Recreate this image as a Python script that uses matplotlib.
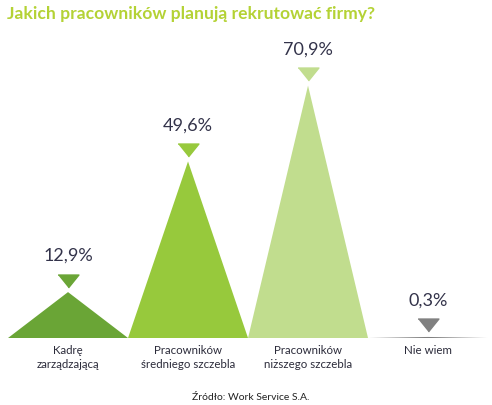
import matplotlib.pyplot as plt
from matplotlib.patches import Polygon
from matplotlib import transforms

plt.rcParams['font.family'] = ['Lato', 'DejaVu Sans']

categories = ['Kadrę\nzarządzającą', 'Pracowników\nśredniego szczebla',
              'Pracowników\nniższego szczebla', 'Nie wiem']
values = [12.9, 49.6, 70.9, 0.3]
value_labels = ['12,9%', '49,6%', '70,9%', '0,3%']
colors = ['#6aa536', '#97c93c', '#c1dd8e', '#808080']

fig = plt.figure(figsize=(4.92, 4.05), dpi=100)
ax = fig.add_axes([0.0163, 0.1654, 0.9756, 0.7032])
ax.set_xlim(-0.5, 3.5)
ax.set_ylim(0, 80)
ax.axis('off')

marker_verts = [(-1, 0.62), (1, 0.62), (0, -0.62)]
for i, (v, lab, c) in enumerate(zip(values, value_labels, colors)):
    ax.add_patch(Polygon([(i - 0.5, 0), (i, v), (i + 0.5, 0)], closed=True,
                         facecolor=c, edgecolor='none'))
    mk = transforms.offset_copy(ax.transData, fig=fig, x=0, y=11.5, units='dots')
    ax.plot([i], [v], marker=marker_verts, markersize=15, color=c,
            linestyle='none', transform=mk, clip_on=False)
    tt = transforms.offset_copy(ax.transData, fig=fig, x=0, y=36, units='dots')
    ax.text(i, v, lab, transform=tt, ha='center', va='center',
            fontsize=13, color='#33334a', clip_on=False)
    ax.text(i, -7 / 3.56, categories[i], ha='center', va='top', fontsize=8.3,
            color='#2b2b3a', linespacing=1.35)

fig.text(7 / 492, 1 - 14 / 405, 'Jakich pracowników planują rekrutować firmy?',
         ha='left', va='center', fontsize=12.6, fontweight='bold', color='#b4d235')
fig.text(251 / 492, 1 - 397 / 405, 'Źródło: Work Service S.A.',
         ha='center', va='center', fontsize=7.5, color='#222222')

fig.savefig('out.png', dpi=100)
